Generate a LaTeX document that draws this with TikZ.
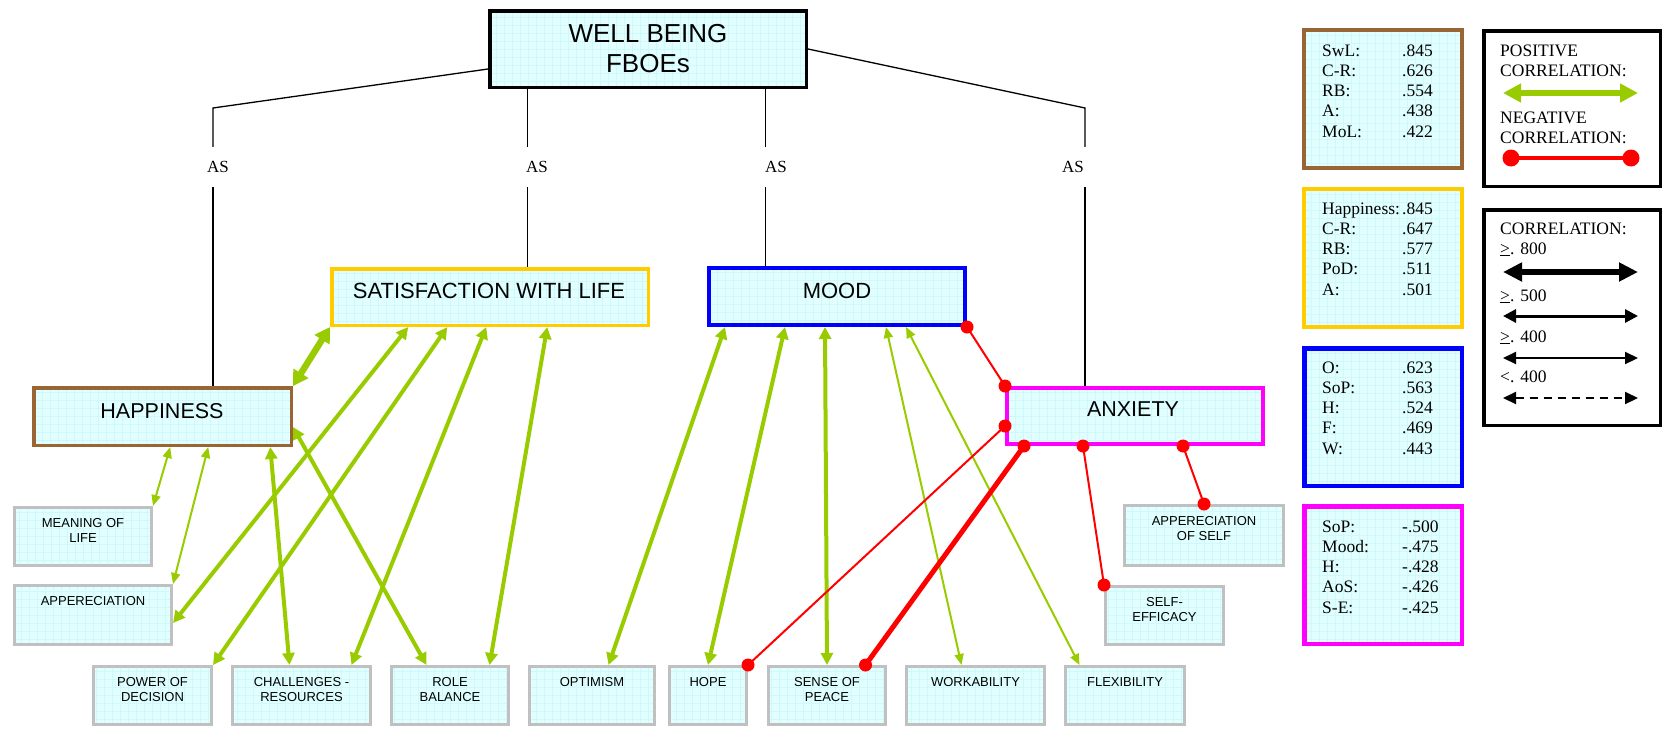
\documentclass[tikz,border=0pt]{standalone}
\usepackage{fontspec}
\setmainfont{Liberation Serif}
\setsansfont{Liberation Sans}
\usetikzlibrary{arrows.meta,calc}

\definecolor{cellfill}{RGB}{226,255,255}
\definecolor{cellgrid}{RGB}{206,248,251}
\definecolor{hapc}{RGB}{153,102,51}
\definecolor{swlc}{RGB}{255,204,0}
\definecolor{moodc}{RGB}{0,0,255}
\definecolor{anxc}{RGB}{255,0,255}
\definecolor{edgec}{RGB}{192,192,192}
\definecolor{posc}{RGB}{153,204,0}
\definecolor{negc}{RGB}{255,0,0}

\tikzset{
  cell/.style={draw, fill=cellfill, inner sep=0pt,
    path picture={\draw[cellgrid, line width=0.6pt, step=8pt]
      (path picture bounding box.south west) grid (path picture bounding box.north east);}},
  leaf/.style={cell, draw=edgec, line width=3pt, minimum height=58pt},
  leaftext/.style={font={\sffamily\fontsize{13}{15.5}\selectfont}, align=center, inner sep=0pt, anchor=north},
  headtext/.style={font={\sffamily\fontsize{22}{26}\selectfont}, inner sep=0pt},
  astext/.style={font={\fontsize{17}{20}\selectfont}, inner sep=0pt, minimum height=40pt},
  paneltext/.style={font={\fontsize{17.5}{20.25}\selectfont}, inner sep=0pt, anchor=base west},
  tie/.style={line width=1.3pt, black},
  pthin/.style={posc, line width=2pt, {Triangle[length=11pt,width=9pt]}-{Triangle[length=11pt,width=9pt]}},
  pmid/.style={posc, line width=4pt, {Triangle[length=12pt,width=12pt]}-{Triangle[length=12pt,width=12pt]}},
  pthick/.style={posc, line width=6.5pt, {Triangle[length=15pt,width=17pt]}-{Triangle[length=15pt,width=17pt]}},
  nthin/.style={negc, line width=2pt},
  nthick/.style={negc, line width=5pt},
  dot/.style={negc},
}

\begin{document}
\begin{tikzpicture}[x=1pt,y=-1pt]
\useasboundingbox (0,0) rectangle (1664,731);

% ---------- main boxes ----------
\node[cell, line width=3.5pt, minimum width=316.5pt, minimum height=76.5pt] (wb) at (648,49) {};
\node[headtext, font={\sffamily\fontsize{26}{30}\selectfont}, align=center] (wbt) at (648,48.7) {WELL BEING\\FBOEs};

\node[cell, draw=hapc, line width=3.5pt, minimum width=257.5pt, minimum height=57.5pt] (hap) at (162.5,416.5) {};
\node[headtext, font={\sffamily\fontsize{21.5}{26}\selectfont}] (hapt) at (162,411) {HAPPINESS};

\node[cell, draw=swlc, line width=3.5pt, minimum width=316.5pt, minimum height=56.5pt] (swl) at (490,297) {};
\node[headtext] (swlt) at (489,291) {SATISFACTION WITH LIFE};

\node[cell, draw=moodc, line width=4pt, minimum width=256pt, minimum height=57pt] (mood) at (837,296.5) {};
\node[headtext] (moodt) at (837,291) {MOOD};

\node[cell, draw=anxc, line width=4pt, minimum width=256pt, minimum height=56pt] (anx) at (1135,416) {};
\node[headtext, font={\sffamily\fontsize{21.5}{26}\selectfont}] (anxt) at (1133,409) {ANXIETY};

% ---------- leaf boxes ----------
\node[leaf, minimum width=137pt] (mol) at (83,536.5) {};
\node[leaftext] (molt) at ($(mol.north)+(0,12)$) {MEANING OF\\LIFE};
\node[leaf, minimum width=157pt, minimum height=59pt] (app) at (93,615) {};
\node[leaftext] (appt) at ($(app.north)+(0,12)$) {APPERECIATION};

\node[leaf, minimum width=118pt] (pod) at (152.5,695.5) {};
\node[leaftext] (podt) at ($(pod.north)+(0,12)$) {POWER OF\\DECISION};
\node[leaf, minimum width=138pt] (cr) at (301.5,695.5) {};
\node[leaftext] (crt) at ($(cr.north)+(0,12)$) {CHALLENGES -\\RESOURCES};
\node[leaf, minimum width=117pt] (rb) at (450,695.5) {};
\node[leaftext] (rbt) at ($(rb.north)+(0,12)$) {ROLE\\BALANCE};
\node[leaf, minimum width=125pt] (opt) at (592,695.5) {};
\node[leaftext] (optt) at ($(opt.north)+(0,12)$) {OPTIMISM};
\node[leaf, minimum width=77pt] (hope) at (708,695.5) {};
\node[leaftext] (hopet) at ($(hope.north)+(0,12)$) {HOPE};
\node[leaf, minimum width=117pt] (sop) at (827,695.5) {};
\node[leaftext] (sopt) at ($(sop.north)+(0,12)$) {SENSE OF\\PEACE};
\node[leaf, minimum width=138pt] (work) at (975.5,695.5) {};
\node[leaftext] (workt) at ($(work.north)+(0,12)$) {WORKABILITY};
\node[leaf, minimum width=119pt] (flex) at (1125,695.5) {};
\node[leaftext] (flext) at ($(flex.north)+(0,12)$) {FLEXIBILITY};

\node[leaf, minimum width=159pt, minimum height=60pt] (aos) at (1204,535.5) {};
\node[leaftext] (aost) at ($(aos.north)+(0,12)$) {APPERECIATION\\OF SELF};
\node[leaf, minimum width=118pt] (se) at (1164.5,615.5) {};
\node[leaftext] (set) at ($(se.north)+(0,12)$) {SELF-\\EFFICACY};

% ---------- AS links from the top box ----------
\node[astext] (as1) at (218,167) {AS};
\node[astext] (as2) at (537,167) {AS};
\node[astext] (as3) at (776,167) {AS};
\node[astext] (as4) at (1073,167) {AS};
\coordinate (k1) at (213,108);
\coordinate (k4) at (1085,108);
\coordinate (k2) at ($(wb.south west)+(39.75,0)$);
\coordinate (k3) at ($(wb.south west)+(277.25,0)$);
\draw[tie] ($(wb.west)+(0,20)$) -- (k1) -- (k1 |- as1.north);
\draw[tie] (k1 |- as1.south) -- (k1 |- hap.north);
\draw[tie] (k2) -- (k2 |- as2.north);
\draw[tie] (k2 |- as2.south) -- (k2 |- swl.north);
\draw[tie] (k3) -- (k3 |- as3.north);
\draw[tie] (k3 |- as3.south) -- (k3 |- mood.north);
\draw[tie] (wb.east) -- (k4) -- (k4 |- as4.north);
\draw[tie] (k4 |- as4.south) -- (k4 |- anx.north);

% ---------- positive correlations ----------
\draw[pthick] (hap.north east) -- (swl.south west);
\draw[pthin] ($(hap.south west)+(138.25,0)$) -- (mol.north east);
\draw[pthin] ($(hap.south west)+(176.25,0)$) -- (app.north east);
\draw[pmid] ($(hap.south west)+(238.25,0)$) -- ($(cr.north west)+(58.5,0)$);
\draw[pmid] ($(hap.east)+(0,10.5)$) -- ($(rb.north west)+(36.5,0)$);

\draw[pmid] ($(swl.south west)+(78.25,0)$) -- ($(app.east)+(0,8)$);
\draw[pmid] ($(swl.south west)+(117.25,0)$) -- (pod.north east);
\draw[pmid] ($(swl.south west)+(156.25,0)$) -- ($(cr.north west)+(120.5,0)$);
\draw[pmid] ($(swl.south west)+(217.25,0)$) -- ($(rb.north west)+(99.5,0)$);

\draw[pmid] ($(mood.south west)+(18,0)$) -- ($(opt.north west)+(80.5,0)$);
\draw[pmid] ($(mood.south west)+(78,0)$) -- (hope.north);
\draw[pmid] ($(mood.south west)+(118,0)$) -- (sop.north);
\draw[pthin] ($(mood.south west)+(179,0)$) -- ($(work.north west)+(56.5,0)$);
\draw[pthin] ($(mood.south west)+(199,0)$) -- ($(flex.north west)+(15.5,0)$);

% ---------- negative correlations ----------
\coordinate (m1) at (mood.south east);
\coordinate (a1) at (anx.north west);
\coordinate (a2) at ($(anx.west)+(0,10)$);
\coordinate (h2) at (hope.north east);
\coordinate (a3) at ($(anx.south west)+(19,0)$);
\coordinate (s3) at ($(sop.north west)+(98.5,0)$);
\coordinate (a4) at ($(anx.south west)+(78,0)$);
\coordinate (e4) at (se.north west);
\coordinate (a5) at ($(anx.south west)+(178,0)$);
\coordinate (o5) at (aos.north);
\draw[nthin] (m1) -- (a1);
\draw[nthin] (a2) -- (h2);
\draw[nthick] (a3) -- (s3);
\draw[nthin] (a4) -- (e4);
\draw[nthin] (a5) -- (o5);
\foreach \p in {m1,a1,a2,h2,a3,s3,a4,e4,a5,o5}
  \fill[dot] (\p) circle[radius=6.5pt];

% ---------- coefficient panels ----------
\node[cell, draw=hapc, line width=4pt, minimum width=158pt, minimum height=138pt] (pbrown) at (1383,99) {};
\node[cell, draw=swlc, line width=4pt, minimum width=158pt, minimum height=138pt] (pyellow) at (1383,258) {};
\node[cell, draw=moodc, line width=4.5pt, minimum width=157.5pt, minimum height=137.5pt] (pblue) at (1383,417) {};
\node[cell, draw=anxc, line width=4.5pt, minimum width=157.5pt, minimum height=137.5pt] (pmag) at (1383,575) {};

\node[paneltext] (pbrownt) at (1322,56) {\begin{tabular}[t]{@{}p{80pt}@{}l@{}}
SwL: & .845\\ C-R: & .626\\ RB: & .554\\ A: & .438\\ MoL: & .422\end{tabular}};
\node[paneltext] (pyellowt) at (1322,214) {\begin{tabular}[t]{@{}p{80pt}@{}l@{}}
Happiness: & .845\\ C-R: & .647\\ RB: & .577\\ PoD: & .511\\ A: & .501\end{tabular}};
\node[paneltext] (pbluet) at (1322,373) {\begin{tabular}[t]{@{}p{80pt}@{}l@{}}
O: & .623\\ SoP: & .563\\ H: & .524\\ F: & .469\\ W: & .443\end{tabular}};
\node[paneltext] (pmagt) at (1322,532) {\begin{tabular}[t]{@{}p{80pt}@{}l@{}}
SoP: & -.500\\ Mood: & -.475\\ H: & -.428\\ AoS: & -.426\\ S-E: & -.425\end{tabular}};

% ---------- legends ----------
\node[draw, line width=3.5pt, minimum width=176.5pt, minimum height=155.5pt, inner sep=0pt] (leg1) at (1572,108.5) {};
\node[paneltext] (leg1a) at (1500,56) {\begin{tabular}[t]{@{}l@{}}POSITIVE\\CORRELATION:\end{tabular}};
\node[paneltext] (leg1b) at (1500,123) {\begin{tabular}[t]{@{}l@{}}NEGATIVE\\CORRELATION:\end{tabular}};
\coordinate (g1) at (1503,93);
\coordinate (g2) at (1638,93);
\draw[posc, line width=6.5pt, {Triangle[length=18pt,width=18pt]}-{Triangle[length=18pt,width=18pt]}] (g1) -- (g2);
\coordinate (r1) at (1511,158);
\coordinate (r2) at (1631,158);
\draw[negc, line width=4.5pt] (r1) -- (r2);
\fill[dot] (r1) circle[radius=8.5pt] (r2) circle[radius=8.5pt];

\node[draw, line width=3.5pt, minimum width=176.5pt, minimum height=215.5pt, inner sep=0pt] (leg2) at (1572,317.5) {};
\node[paneltext] (leg2a) at (1500,234) {\begin{tabular}[t]{@{}l@{}}CORRELATION:\\\underline{>}. 800\end{tabular}};
\node[paneltext] (leg2b) at (1500,301) {\underline{>}. 500};
\node[paneltext] (leg2c) at (1500,342) {\underline{>}. 400};
\node[paneltext] (leg2d) at (1500,382) {<. 400};
\coordinate (w1) at (1503,272);
\coordinate (w2) at (1638,272);
\coordinate (w3) at (1503,316);
\coordinate (w4) at (1638,316);
\coordinate (w5) at (1503,358);
\coordinate (w6) at (1638,358);
\coordinate (w7) at (1503,398);
\coordinate (w8) at (1638,398);
\draw[line width=6.5pt, {Triangle[length=19pt,width=18pt]}-{Triangle[length=19pt,width=18pt]}] (w1) -- (w2);
\draw[line width=3pt, {Triangle[length=13pt,width=13pt]}-{Triangle[length=13pt,width=13pt]}] (w3) -- (w4);
\draw[line width=2pt, {Triangle[length=13pt,width=12pt]}-{Triangle[length=13pt,width=12pt]}] (w5) -- (w6);
\draw[line width=2pt, dash pattern=on 8pt off 6pt, {Triangle[length=13pt,width=12pt]}-{Triangle[length=13pt,width=12pt]}] (w7) -- (w8);
\end{tikzpicture}
\end{document}
